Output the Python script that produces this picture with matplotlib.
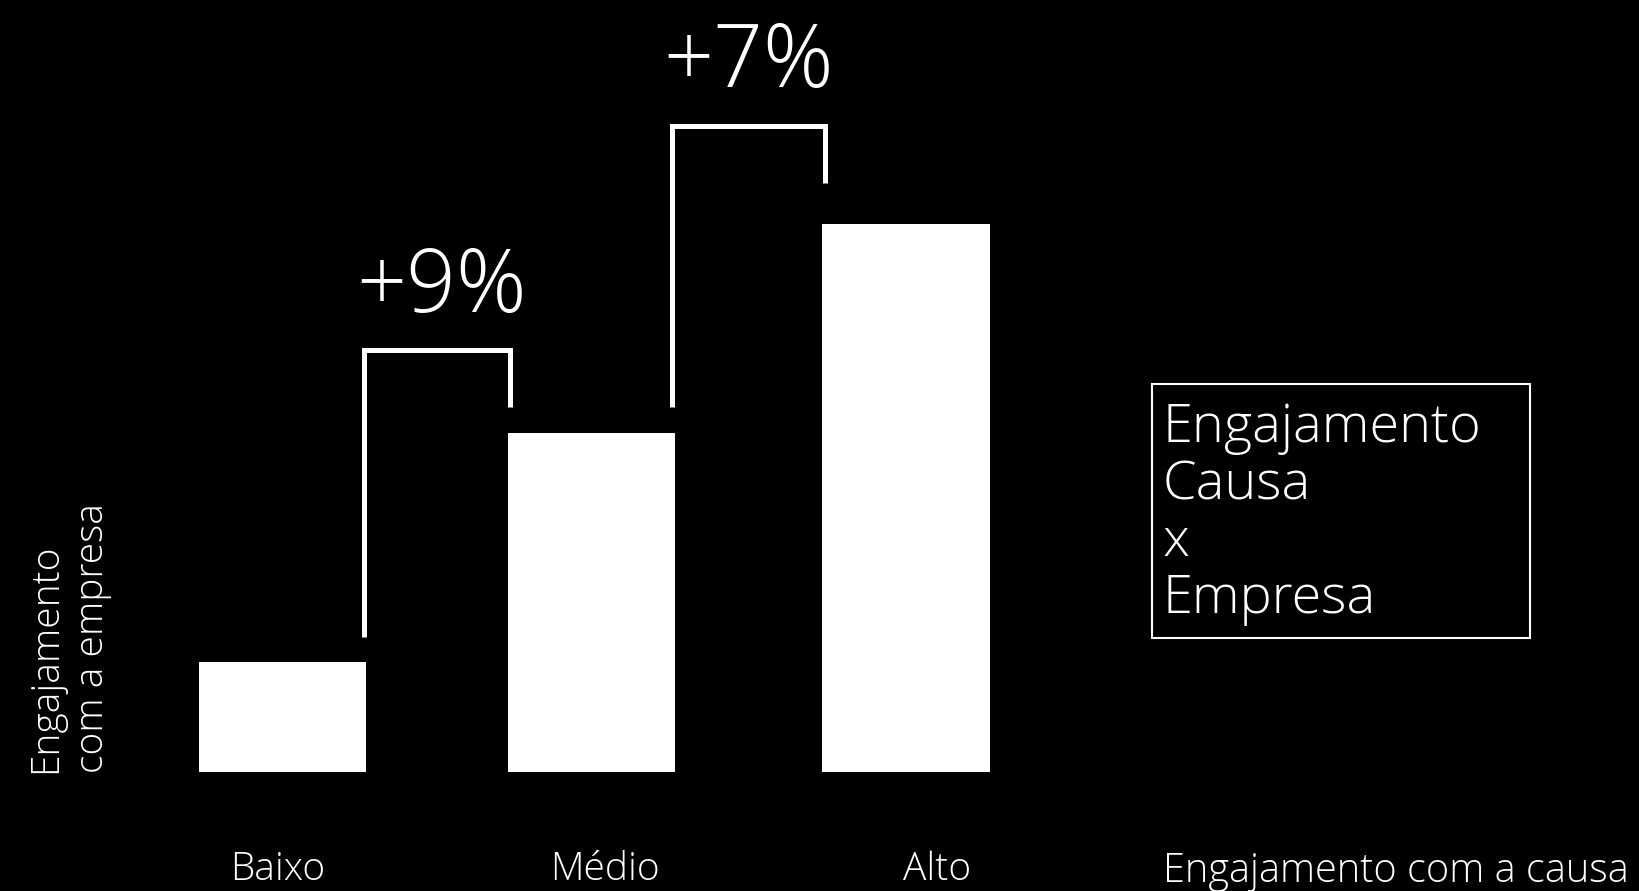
import matplotlib.pyplot as plt
from matplotlib import font_manager
from matplotlib.patches import Rectangle

# dados
categorias = ['Baixo', 'Médio', 'Alto']
valores = [20, 62, 100]           # engajamento com a empresa (relativo)
variacoes = ['+9%', '+7%']        # diferença entre níveis vizinhos
topo_chave = [77, 118]            # altura do topo de cada colchete
fim_chave = [4.7, 7.6]            # folga entre a ponta direita e a barra

titulo_caixa = ['Engajamento', 'Causa', 'x', 'Empresa']
rotulo_y = 'Engajamento\ncom a empresa'
rotulo_x = 'Engajamento com a causa'

# fonte fina, se houver alguma instalada
leves = {f.name for f in font_manager.fontManager.ttflist
         if isinstance(f.weight, int) and f.weight <= 300}
fonte = next((n for n in ['Open Sans', 'Lato', 'Noto Sans', 'Roboto', 'Inter']
              if n in leves), 'Open Sans')
plt.rcParams['font.family'] = [fonte, 'DejaVu Sans']
plt.rcParams['font.weight'] = 'light'

W, H = 1639, 891
fig = plt.figure(figsize=(W / 100, H / 100), dpi=100, facecolor='black')
ax = fig.add_axes([126.6 / W, 119 / H, 935.25 / W, 772 / H])
ax.set_facecolor('black')
ax.set_xlim(-0.5, 2.5)
ax.set_ylim(0, 141)
ax.axis('off')

x = [0, 0.99, 2]
largura = 0.536
ax.bar(x, valores, width=largura, color='white')

# colchetes com as variações
meia_linha = 0.008
desloc_txt = [0.015, 0.0]
for i, txt in enumerate(variacoes):
    xa = x[i] + largura / 2 - meia_linha
    xb = x[i + 1] - largura / 2 + meia_linha
    ya = valores[i] + 4.6
    yb = valores[i + 1] + fim_chave[i]
    top = topo_chave[i]
    ax.plot([xa, xa, xb, xb], [ya, top, top, yb], color='white', lw=3.6,
            solid_joinstyle='miter', solid_capstyle='butt')
    ax.text((xa + xb) / 2 + desloc_txt[i], top + 7.1, txt, color='white',
            fontsize=63, ha='center', va='baseline')

# rótulos das categorias
desloc = [-0.015, 0.045, 0.1]
for xi, cat, d in zip(x, categorias, desloc):
    ax.text(xi + d, -0.14, cat, transform=ax.get_xaxis_transform(),
            color='white', fontsize=28, ha='center', va='baseline')

fig.text(1163 / W, (H - 882) / H, rotulo_x, color='white', fontsize=28.6,
         ha='left', va='baseline')

fig.text(27 / W, (H - 773) / H, rotulo_y, color='white', fontsize=28,
         rotation=90, ha='left', va='bottom', multialignment='left',
         linespacing=1.28)

# caixa de legenda
fig.patches.append(Rectangle((1152 / W, (H - 638) / H), 378 / W, 254 / H,
                             transform=fig.transFigure, fill=False,
                             edgecolor='white', lw=1.5))
for k, linha in enumerate(titulo_caixa):
    fig.text(1163 / W, (H - 442 - 57 * k) / H, linha, color='white',
             fontsize=39, ha='left', va='baseline')

fig.savefig('out.png', dpi=100, facecolor='black')
